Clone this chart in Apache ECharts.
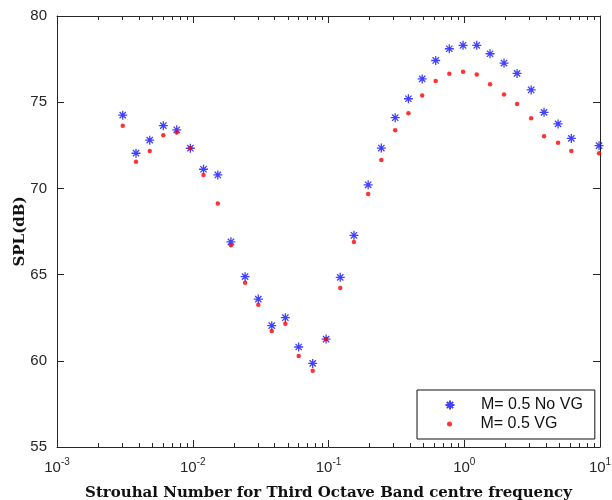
<!DOCTYPE html>
<html>
<head>
<meta charset="utf-8">
<script src="https://cdn.jsdelivr.net/npm/echarts@6/dist/echarts.min.js"></script>
<style>
  html, body { margin: 0; padding: 0; background: #fff; }
  #chart { width: 612px; height: 500px; }
</style>
</head>
<body>
<div id="chart"></div>
<script>
// Strouhal number (third octave band centre) on the x axis
const strouhal = [0.00305, 0.00382, 0.00482, 0.00607, 0.00762, 0.0096, 0.0120, 0.0153, 0.0191,
  0.0243, 0.0304, 0.0382, 0.0481, 0.0603, 0.0765, 0.0960, 0.122, 0.154, 0.196, 0.245, 0.310,
  0.388, 0.490, 0.616, 0.776, 0.980, 1.236, 1.549, 1.963, 2.45, 3.11, 3.87, 4.91, 6.15, 9.84]

// SPL (dB)
const splNoVG = [74.25, 72.04, 72.80, 73.64, 73.40, 72.33, 71.11, 70.78, 66.90, 64.88, 63.58,
  62.04, 62.50, 60.80, 59.85, 61.26, 64.84, 67.28, 70.21, 72.34, 74.10, 75.20, 76.35, 77.42,
  78.10, 78.30, 78.30, 77.81, 77.27, 76.67, 75.71, 74.41, 73.74, 72.90, 72.48]
const splVG = [73.63, 71.55, 72.17, 73.08, 73.24, 72.33, 70.78, 69.13, 66.70, 64.53, 63.25,
  61.73, 62.15, 60.28, 59.43, 61.26, 64.22, 66.89, 69.68, 71.65, 73.38, 74.36, 75.39, 76.23,
  76.65, 76.77, 76.60, 76.04, 75.44, 74.90, 74.07, 73.02, 72.65, 72.17, 72.04]

const seriesNames = ['M= 0.5 No VG', 'M= 0.5 VG']
const xMajorTicks = [0.001, 0.01, 0.1, 1, 10]
const yTicks = [55, 60, 65, 70, 75, 80]

// minor ticks 2..9 in each decade (MATLAB style log axis)
const xMinorTicks = []
xMajorTicks.slice(0, -1).forEach(d => {
  for (let k = 2; k <= 9; k++) xMinorTicks.push(d * k)
})

const yMin = yTicks[0]
const yMax = yTicks[yTicks.length - 1]
const axisColor = '#262626'
const asterisk = 'path://M0,5L10,5M5,0L5,10M1.5,1.5L8.5,8.5M8.5,1.5L1.5,8.5'

const chart = echarts.init(document.getElementById('chart'))

const logX = {
  type: 'log',
  min: xMajorTicks[0],
  max: xMajorTicks[xMajorTicks.length - 1],
  splitLine: { show: false },
  axisLine: { show: true, onZero: false, lineStyle: { color: axisColor, width: 1 } },
  axisTick: { show: true, inside: true, length: 7, lineStyle: { color: axisColor, width: 1 } }
}
const legendText = { fontFamily: 'Liberation Sans', fontSize: 16, lineHeight: 16, color: '#111', padding: [0, 0, 0, 21] }

// minor ticks drawn through the axis scale, on the bottom and top edges
const renderMinorTick = (params, api) => {
  const x = api.value(0)
  const lo = api.coord([x, yMin])
  const hi = api.coord([x, yMax])
  const px = Math.round(lo[0]) + 0.5
  return {
    type: 'group',
    children: [
      { type: 'rect', shape: { x: px - 0.5, y: lo[1] - 4, width: 1, height: 4 }, style: { fill: axisColor } },
      { type: 'rect', shape: { x: px - 0.5, y: hi[1], width: 1, height: 4 }, style: { fill: axisColor } }
    ]
  }
}

const option = {
  backgroundColor: '#fff',
  animation: false,
  grid: { left: 57, right: 12, top: 16, bottom: 53, containLabel: false, outerBoundsMode: 'none' },
  xAxis: [
    Object.assign({}, logX, {
      position: 'bottom',
      name: 'Strouhal Number for Third Octave Band centre frequency',
      nameLocation: 'middle',
      nameGap: 39,
      nameTextStyle: { fontFamily: 'DejaVu Serif', fontWeight: 'bold', fontSize: 15, color: '#111' },
      axisLabel: {
        margin: 10,
        formatter: v => '{b|10}{s|' + Math.round(Math.log10(v)) + '}',
        rich: {
          b: { fontFamily: 'Liberation Sans', fontSize: 15, color: axisColor },
          s: { fontFamily: 'Liberation Sans', fontSize: 10, color: axisColor, padding: [0, 0, 11, 0] }
        }
      }
    }),
    Object.assign({}, logX, { position: 'top', axisLabel: { show: false } })
  ],
  yAxis: [
    {
      type: 'value',
      position: 'left',
      min: yMin,
      max: yMax,
      interval: 5,
      name: 'SPL(dB)',
      nameLocation: 'middle',
      nameGap: 29,
      nameMoveOverlap: false,
      nameTextStyle: { fontFamily: 'DejaVu Serif', fontWeight: 'bold', fontSize: 15, color: '#111' },
      splitLine: { show: false },
      axisLine: { show: true, onZero: false, lineStyle: { color: axisColor } },
      axisTick: { show: true, inside: true, length: 7, lineStyle: { color: axisColor, width: 1 } },
      axisLabel: { fontFamily: 'Liberation Sans', fontSize: 15, color: axisColor, margin: 10 }
    },
    {
      type: 'value',
      position: 'right',
      min: yMin,
      max: yMax,
      interval: 5,
      splitLine: { show: false },
      axisLine: { show: true, onZero: false, lineStyle: { color: axisColor } },
      axisTick: { show: true, inside: true, length: 7, lineStyle: { color: axisColor, width: 1 } },
      axisLabel: { show: false }
    }
  ],
  legend: [
    {
      data: [seriesNames[0]],
      orient: 'vertical',
      left: 417,
      top: 390,
      padding: [7, 12, 26, 26],
      itemWidth: 10,
      itemHeight: 9,
      borderColor: '#111',
      borderWidth: 1,
      selectedMode: false,
      textStyle: legendText
    },
    {
      data: [seriesNames[1]],
      orient: 'vertical',
      left: 447,
      top: 416,
      padding: 0,
      itemWidth: 10,
      itemHeight: 5,
      selectedMode: false,
      textStyle: legendText
    }
  ],
  series: [
    {
      name: 'minor ticks',
      type: 'custom',
      silent: true,
      clip: false,
      z: 5,
      xAxisIndex: 0,
      yAxisIndex: 0,
      encode: { x: 0, y: 1 },
      renderItem: renderMinorTick,
      data: xMinorTicks.map(x => [x, yMin])
    },
    {
      name: seriesNames[0],
      type: 'scatter',
      xAxisIndex: 0,
      yAxisIndex: 0,
      symbol: asterisk,
      symbolSize: 9,
      itemStyle: { color: 'none', borderColor: '#1010ff', borderWidth: 1.3 },
      data: strouhal.map((x, i) => [x, splNoVG[i]])
    },
    {
      name: seriesNames[1],
      type: 'scatter',
      xAxisIndex: 0,
      yAxisIndex: 0,
      symbol: 'circle',
      symbolSize: 4.5,
      itemStyle: { color: '#ff0000' },
      data: strouhal.map((x, i) => [x, splVG[i]])
    }
  ]
}

chart.setOption(option)
</script>
</body>
</html>
